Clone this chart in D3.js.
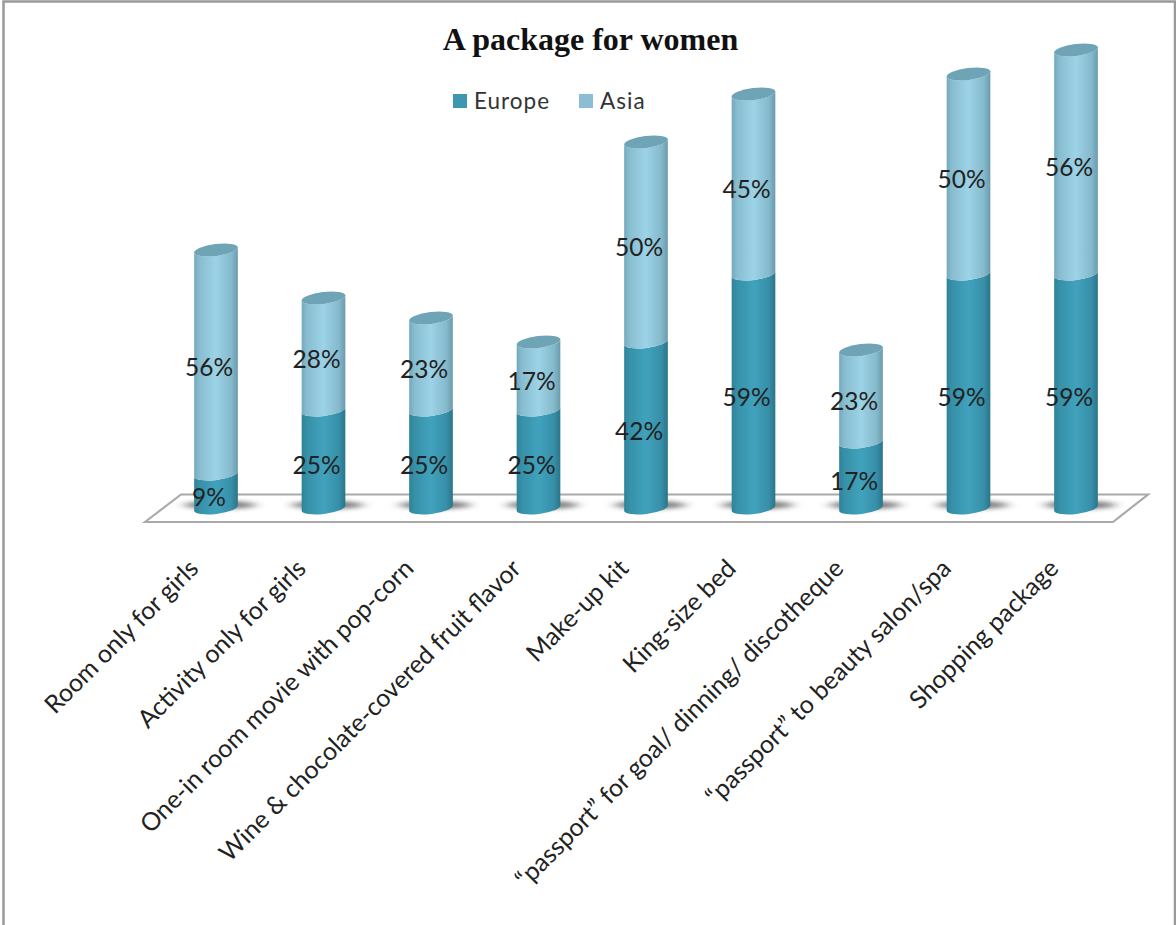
<!DOCTYPE html>
<html>
<head>
<meta charset="utf-8">
<script src="https://cdn.jsdelivr.net/npm/d3@7/dist/d3.min.js"></script>
<style>
html,body{margin:0;padding:0;background:#fff;overflow:hidden}
svg{display:block}
</style>
</head>
<body>
<svg id="chart" width="1176" height="925"></svg>
<script>
const categories = [
  "Room only for girls",
  "Activity only for girls",
  "One-in room movie with pop-corn",
  "Wine & chocolate-covered fruit flavor",
  "Make-up kit",
  "King-size bed",
  "“passport” for goal/ dinning/ discotheque",
  "“passport” to beauty salon/spa",
  "Shopping package"
];
const europe = [9, 25, 25, 25, 42, 59, 17, 59, 59];
const asia = [56, 28, 23, 17, 50, 45, 23, 50, 56];
const seriesNames = ["Europe", "Asia"];
const chartTitle = "A package for women";

const W = 1176, H = 925;
const svg = d3.select("#chart");
const defs = svg.append("defs");

function grad(id, stops) {
  const g = defs.append("linearGradient").attr("id", id).attr("x1", 0).attr("x2", 1).attr("y1", 0).attr("y2", 0);
  stops.forEach(([o, c]) => g.append("stop").attr("offset", o).attr("stop-color", c));
}
grad("gEurope", [[0, "#2f8298"], [0.12, "#3690a8"], [0.5, "#41a2bd"], [0.85, "#378fa8"], [1, "#2a7589"]]);
grad("gAsia", [[0, "#74a9bc"], [0.12, "#88bdd0"], [0.5, "#9dd3e7"], [0.85, "#85b9cc"], [1, "#6a9bad"]]);
defs.append("filter").attr("id", "blur").attr("x", "-30%").attr("width", "160%").attr("y", "-150%").attr("height", "400%")
  .append("feGaussianBlur").attr("stdDeviation", "6 2");

// frame
svg.append("path").attr("d", `M3.5,${H} V1.5 H${W-1} V${H}`).attr("fill", "none").attr("stroke", "#999").attr("stroke-width", 2.5);

const x = d3.scaleBand().domain(categories).range([162.25, 1129.75]).paddingInner(0.0);
const y = d3.scaleLinear().domain([0, 100]).range([510, 110]);
const cx = c => x(c) + x.bandwidth() / 2;

const rx = 22, ry = 6, tilt = 7, footLift = 2;
const dX = rx * Math.cos(tilt * Math.PI / 180), dY = rx * Math.sin(tilt * Math.PI / 180);

function sidePath(c, v0, v1) {
  const xc = cx(c), y0 = y(v0) - (v0 === 0 ? footLift : 0), y1 = y(v1);
  return `M${xc - dX},${y1 + dY} L${xc - dX},${y0 + dY}` +
    ` A${rx},${ry} ${-tilt} 0 0 ${xc + dX},${y0 - dY}` +
    ` L${xc + dX},${y1 - dY}` +
    ` A${rx},${ry} ${-tilt} 0 1 ${xc - dX},${y1 + dY} Z`;
}

// floor
svg.append("path")
  .attr("d", "M145,522 L181,494.5 H1148 L1113,522 Z")
  .attr("fill", "#fff").attr("stroke", "#aaa").attr("stroke-width", 2.2);

// floor shadows
svg.append("g").selectAll("ellipse").data(categories).join("ellipse")
  .attr("cx", c => cx(c) + 4).attr("cy", 505).attr("rx", 36).attr("ry", 4)
  .attr("fill", "#777").attr("opacity", 0.95).attr("filter", "url(#blur)");

const bars = svg.append("g").selectAll("g").data(categories).join("g");
bars.append("path").attr("d", (c, i) => sidePath(c, 0, europe[i])).attr("fill", "url(#gEurope)");
bars.append("path").attr("d", (c, i) => sidePath(c, europe[i], europe[i] + asia[i])).attr("fill", "url(#gAsia)");
bars.append("ellipse")
  .attr("rx", rx).attr("ry", ry)
  .attr("transform", (c, i) => `translate(${cx(c)},${y(europe[i] + asia[i])}) rotate(${-tilt})`)
  .attr("fill", "#6ea4b6");

// data labels
const labelFont = "Lato, 'Open Sans', sans-serif";
const dl = svg.append("g").attr("font-family", labelFont).attr("font-size", 24.5).attr("fill", "#222").attr("text-anchor", "middle");
categories.forEach((c, i) => {
  dl.append("text").attr("x", cx(c) - 7).attr("y", y(europe[i] / 2) + 13.5).text(europe[i] + "%");
  dl.append("text").attr("x", cx(c) - 7).attr("y", y(europe[i] + asia[i] / 2) + 14).text(asia[i] + "%");
});

// category axis
const axis = d3.axisBottom(x).tickSize(0).tickPadding(0);
const ag = svg.append("g").call(axis);
ag.select(".domain").remove();
ag.selectAll(".tick text")
  .attr("font-family", labelFont).attr("font-size", 25).attr("fill", "#222")
  .attr("text-anchor", "end").attr("dy", 0).attr("y", 0)
  .attr("transform", "translate(-16,570) rotate(-45)");

// title
svg.append("text").attr("x", 590.5).attr("y", 50).attr("text-anchor", "middle")
  .attr("font-family", "'Liberation Serif', serif").attr("font-weight", "bold").attr("font-size", 32).attr("fill", "#111")
  .text(chartTitle);

// legend
const swatch = d3.scaleOrdinal().domain(seriesNames).range(["#3f96b0", "#8cbdd4"]);
const legendX = d3.scalePoint().domain(seriesNames).range([453, 579]);
const lg = svg.append("g").selectAll("g").data(seriesNames).join("g")
  .attr("transform", d => `translate(${legendX(d)},94)`);
lg.append("rect").attr("width", 14).attr("height", 14).attr("fill", d => swatch(d));
lg.append("text").attr("x", 21).attr("y", 15).attr("font-family", labelFont).attr("font-size", 22.5).attr("letter-spacing", 1).attr("fill", "#333").text(d => d);
</script>
</body>
</html>
